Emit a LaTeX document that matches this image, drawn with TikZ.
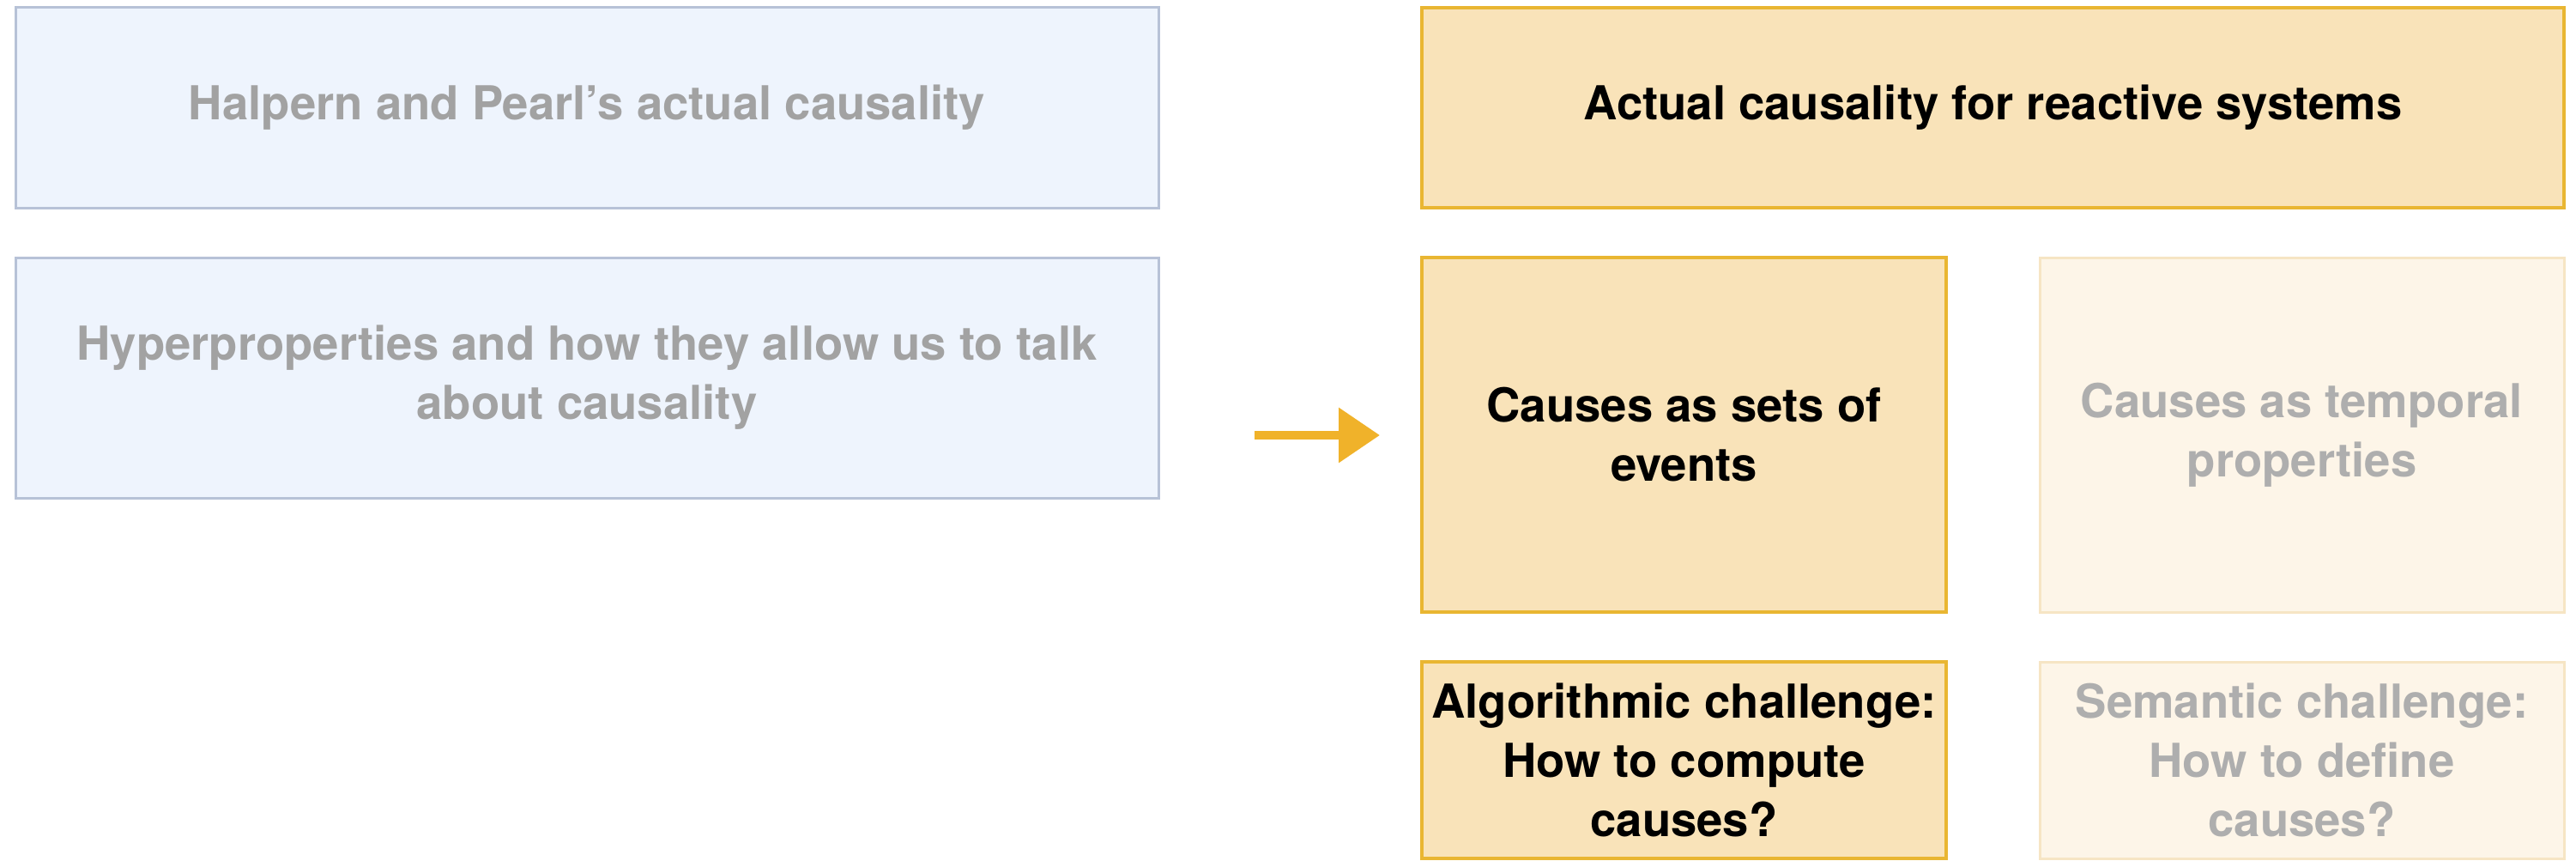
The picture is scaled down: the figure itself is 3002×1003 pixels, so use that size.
\documentclass[tikz,border=0pt]{standalone}
\usepackage{fontspec}
\setmainfont{TeX Gyre Heros}
\usetikzlibrary{arrows.meta}
\definecolor{bluefill}{HTML}{EEF4FD}
\definecolor{blueedge}{HTML}{B7C2D7}
\definecolor{orfill}{HTML}{F9E3B9}
\definecolor{oredge}{HTML}{E9B632}
\definecolor{fadefill}{HTML}{FDF5E8}
\definecolor{fadeedge}{HTML}{F6E5C4}
\definecolor{greytext}{HTML}{A2A2A2}
\definecolor{fadetext}{HTML}{AEAEAE}
\definecolor{arrowcol}{HTML}{F0B22A}
\tikzset{
  x=1pt, y=-1pt,
  basebox/.style={rectangle, inner sep=0pt, align=center,
    font=\fontsize{54.5}{69}\selectfont\bfseries},
  bluebox/.style={basebox, fill=bluefill, draw=blueedge, line width=3pt, text=greytext},
  activebox/.style={basebox, fill=orfill, draw=oredge, line width=4pt, text=black},
  fadebox/.style={basebox, fill=fadefill, draw=fadeedge, line width=3pt, text=fadetext},
  arr/.style={draw=arrowcol, line width=10pt, -{Triangle[length=48pt,width=62pt]}}
}
\begin{document}
\begin{tikzpicture}
\useasboundingbox[fill=white] (0,0) rectangle (3002,1003);
\node[bluebox, minimum width=1332pt, minimum height=233pt] (hp) at (684,125.5)
  {Halpern and Pearl’s actual causality};
\node[bluebox, minimum width=1332pt, minimum height=280pt] (hyp) at (684,440)
  {Hyperproperties and how they allow us to talk\\about causality};
\node[activebox, minimum width=1331pt, minimum height=233pt] (acr) at (2322.5,125.5)
  {Actual causality for reactive systems};
\node[activebox, minimum width=611pt, minimum height=413pt] (sets) at (1962.5,506.5)
  {Causes as sets of\\events};
\node[fadebox, minimum width=611pt, minimum height=413pt] (temp) at (2682.5,506.5)
  {Causes as temporal\\properties};
\node[activebox, minimum width=611pt, minimum height=229pt] (algo) at (1962.5,885.5)
  {Algorithmic challenge:\\How to compute\\causes?};
\node[fadebox, minimum width=611pt, minimum height=229pt] (sem) at (2682.5,885.5)
  {Semantic challenge:\\How to define\\causes?};
\coordinate (astart) at (1462,507);
\draw[arr, shorten >=47pt] (astart) -- (astart -| sets.west);
\end{tikzpicture}
\end{document}
